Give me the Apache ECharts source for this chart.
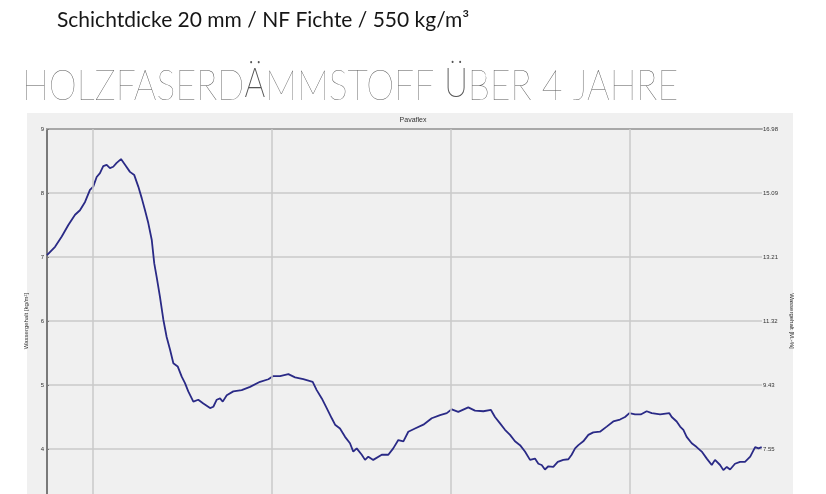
<!DOCTYPE html>
<html>
<head>
<meta charset="utf-8">
<script src="https://cdn.jsdelivr.net/npm/echarts@6/dist/echarts.min.js"></script>
<style>
  html, body { margin: 0; padding: 0; background: #ffffff; overflow: hidden; }
  #chart { width: 826px; height: 530px; }
</style>
</head>
<body>
<div id="chart"></div>
<script>
// Months since the start of the measurement (4 years = 48 months)
const months = [
  0, 0.54, 0.99, 1.43, 1.88, 2.21, 2.55, 2.88, 3.10, 3.33, 3.55, 3.77, 4.00, 4.22, 4.44, 4.67, 4.96,
  5.23, 5.56, 5.85, 6.12, 6.35, 6.57, 6.79, 7.02, 7.19, 7.35, 7.57, 7.80, 8.02, 8.25, 8.47, 8.76,
  9.03, 9.25, 9.47, 9.59, 9.81, 10.14, 10.48, 10.93, 11.15, 11.38, 11.60, 11.78, 12.05, 12.49,
  13.05, 13.61, 14.28, 14.84, 15.17, 15.62, 16.18, 16.63, 17.18, 17.81, 18.08, 18.42, 18.75,
  19.09, 19.31, 19.64, 19.98, 20.31, 20.53, 20.76, 21.10, 21.32, 21.54, 21.87, 21.99, 22.44,
  22.88, 23.21, 23.55, 23.89, 24.22, 24.67, 25.23, 25.79, 26.35, 26.80, 27.13, 27.57, 28.24,
  28.69, 29.25, 29.76, 30.03, 30.37, 30.70, 31.04, 31.37, 31.71, 32.04, 32.38, 32.71, 32.94,
  33.16, 33.38, 33.61, 33.94, 34.24, 34.61, 34.95, 35.17, 35.40, 35.62, 35.95, 36.29, 36.62,
  37.07, 37.52, 37.96, 38.41, 38.75, 39.04, 39.42, 39.80, 40.20, 40.54, 41.10, 41.72, 41.88,
  42.21, 42.44, 42.66, 42.88, 43.22, 43.55, 43.89, 44.23, 44.56, 44.78, 45.12, 45.34, 45.57,
  45.79, 46.12, 46.46, 46.79, 47.14, 47.47, 47.70, 47.91
];

// Water content [kg/m²]
const waterContent = [
  7.03, 7.16, 7.32, 7.50, 7.66, 7.73, 7.86, 8.05, 8.10, 8.25, 8.31, 8.42, 8.44, 8.39, 8.41, 8.47, 8.53,
  8.44, 8.33, 8.28, 8.10, 7.92, 7.73, 7.53, 7.27, 6.90, 6.69, 6.38, 6.02, 5.75, 5.55, 5.34, 5.29,
  5.13, 5.03, 4.90, 4.92, 4.74, 4.77, 4.71, 4.64, 4.66, 4.77, 4.79, 4.74, 4.84, 4.90,
  4.92, 4.97, 5.05, 5.09, 5.14, 5.14, 5.17, 5.12, 5.09, 5.05, 4.92, 4.79, 4.64,
  4.48, 4.38, 4.32, 4.19, 4.09, 3.96, 4.01, 3.91, 3.83, 3.88, 3.83, 3.85, 3.91,
  3.91, 4.01, 4.14, 4.12, 4.27, 4.32, 4.38, 4.48, 4.53, 4.56, 4.62, 4.58, 4.65,
  4.60, 4.59, 4.61, 4.50, 4.40, 4.30, 4.22, 4.12, 4.06, 3.96, 3.83, 3.85, 3.77,
  3.75, 3.68, 3.73, 3.72, 3.80, 3.83, 3.84, 3.91, 4.01, 4.06, 4.12, 4.22, 4.26,
  4.27, 4.35, 4.43, 4.46, 4.50, 4.56, 4.54, 4.54, 4.59, 4.56, 4.54, 4.56, 4.50,
  4.43, 4.35, 4.30, 4.19, 4.09, 4.03, 3.96, 3.85, 3.75, 3.83, 3.75, 3.67, 3.72,
  3.68, 3.77, 3.80, 3.80, 3.88, 4.03, 4.01, 4.03
];

// Turn of each year (months since start)
const yearStarts = [3.08, 15.08, 27.08, 39.08];

// Left axis ticks [kg/m²] and the matching right axis labels [M.-%]
const leftTicks = [4, 5, 6, 7, 8, 9];
const rightTickLabels = ['7.55', '9.43', '11.32', '13.21', '15.09', '16.98'];

const seriesData = months.map((m, i) => [m, waterContent[i]]);

const chart = echarts.init(document.getElementById('chart'), null, { renderer: 'canvas' });

const tickFont = { fontFamily: 'Liberation Sans', fontSize: 6, color: '#333333' };

// Headline: thin Lato; the umlaut letters come from thin Roboto
const headFill = '#555555';

chart.setOption({
  backgroundColor: '#ffffff',
  animation: false,
  graphic: [
    {
      // grey panel behind the plot
      type: 'rect',
      z: -10,
      shape: { x: 27, y: 113, width: 766, height: 420 },
      style: { fill: '#f0f0f0' },
      silent: true
    },
    {
      type: 'text',
      x: 57, y: 10,
      silent: true,
      style: {
        text: 'Schichtdicke 20 mm / NF Fichte / 550 kg/m³',
        fontFamily: 'Lato', fontSize: 21, fontWeight: 'normal',
        fill: '#161616', verticalAlign: 'top', align: 'left'
      }
    },
    {
      type: 'text',
      x: 22, y: 66,
      scaleX: 0.87,
      silent: true,
      style: {
        text: '{t|HOLZFASERD}{u|Ä}{t|MMSTOFF }{u|Ü}{t|BER 4 JAHRE}',
        fontFamily: 'Lato', fontWeight: 200, fontSize: 41, fill: headFill,
        verticalAlign: 'top', align: 'left',
        rich: {
          t: { fontFamily: 'Lato', fontWeight: 200, fontSize: 41, fill: headFill },
          u: { fontFamily: 'Roboto', fontWeight: 100, fontSize: 40, fill: headFill }
        }
      }
    }
  ],
  title: [
    {
      text: 'Pavaflex',
      left: 'center', top: 117, padding: 0,
      textStyle: { fontFamily: 'Liberation Sans', fontSize: 7, fontWeight: 'normal', color: '#333333' }
    }
  ],
  grid: { left: 47, right: 64, top: 129, bottom: 17, containLabel: false },
  xAxis: [
    {
      type: 'value', min: 0, max: 47.93, position: 'bottom',
      axisLine: { show: false }, axisTick: { show: false },
      axisLabel: { show: false }, splitLine: { show: false }
    },
    {
      type: 'value', min: 0, max: 47.93, position: 'top',
      axisLine: { show: true, lineStyle: { color: '#a8a8a8', width: 2 } },
      axisTick: { show: false }, axisLabel: { show: false }, splitLine: { show: false }
    }
  ],
  yAxis: [
    {
      type: 'value', min: 3, max: 9, interval: 1, position: 'left',
      name: 'Wassergehalt [kg/m²]', nameLocation: 'middle', nameGap: 11,
      nameTextStyle: { fontFamily: 'Liberation Sans', fontSize: 6, color: '#333333' },
      axisLine: { show: true, lineStyle: { color: '#808080', width: 2 } },
      axisTick: { show: false },
      axisLabel: Object.assign({ margin: 3, formatter: v => (leftTicks.indexOf(v) >= 0 ? String(v) : '') }, tickFont),
      splitLine: { show: true, lineStyle: { color: '#cacaca', width: 1.5 } }
    },
    {
      type: 'value', min: 3, max: 9, interval: 1, position: 'right',
      name: 'Wassergehalt [M.-%]', nameLocation: 'middle', nameGap: 24, nameRotate: -90,
      nameTextStyle: { fontFamily: 'Liberation Sans', fontSize: 6, color: '#333333' },
      axisLine: { show: true, lineStyle: { color: '#7a7a7a', width: 2 } },
      axisTick: { show: true, length: 2, lineStyle: { color: '#7a7a7a' } },
      axisLabel: Object.assign({
        margin: 1,
        formatter: v => {
          const i = leftTicks.indexOf(v);
          return i >= 0 ? rightTickLabels[i] : '';
        }
      }, tickFont),
      splitLine: { show: false }
    }
  ],
  series: [
    {
      // vertical year gridlines, kept under the measured curve
      type: 'line', data: [], z: 1, silent: true,
      markLine: {
        silent: true, symbol: 'none', animation: false,
        label: { show: false },
        lineStyle: { color: '#cacaca', width: 1.5, type: 'solid' },
        data: yearStarts.map(m => ({ xAxis: m }))
      }
    },
    {
      name: 'Pavaflex',
      type: 'line', z: 3,
      data: seriesData,
      showSymbol: false,
      smooth: false,
      lineStyle: { color: '#2a2a86', width: 1.8 }
    }
  ]
});
</script>
</body>
</html>
